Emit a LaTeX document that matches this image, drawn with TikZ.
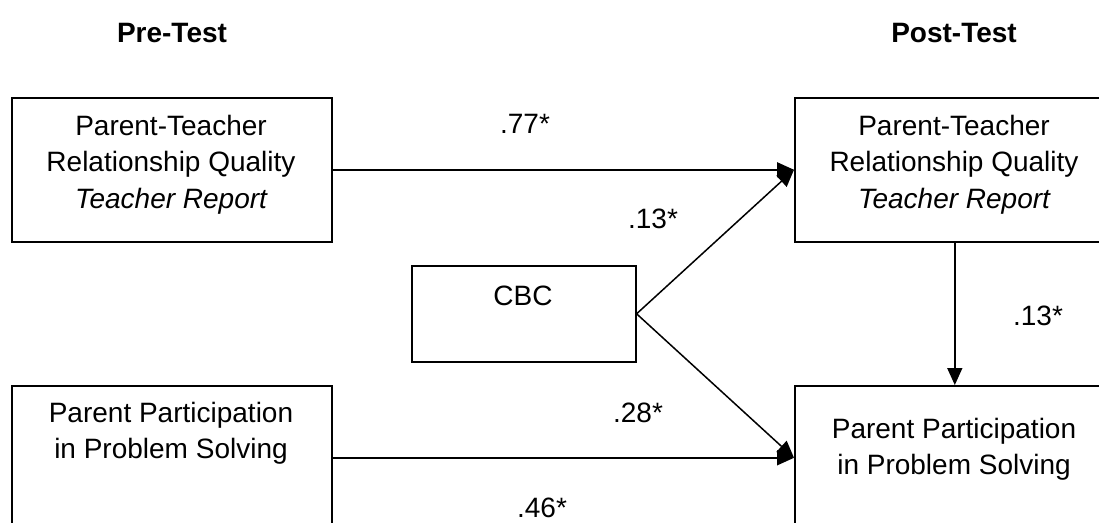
\documentclass[tikz,border=0pt]{standalone}
\usepackage{fontspec}
\setmainfont{Liberation Sans}
\usetikzlibrary{arrows.meta}
\begin{document}
\begin{tikzpicture}[x=1pt,y=-1pt,
  box/.style={draw, line width=1.6pt, minimum width=320pt, minimum height=144pt, inner sep=0pt, anchor=north west},
  cbcbox/.style={draw, line width=1.6pt, minimum width=224pt, minimum height=96pt, inner sep=0pt, anchor=north west},
  boxtext/.style={font=\fontsize{28}{36.5}\selectfont, align=center, anchor=north, inner sep=0pt},
  coef/.style={font=\fontsize{28}{34}\selectfont, anchor=base, inner sep=0pt},
  head/.style={font=\bfseries\fontsize{28}{34}\selectfont, anchor=base, inner sep=0pt},
  arr/.style={line width=1.5pt, -{Triangle[length=17pt,width=15pt]}}]
\useasboundingbox (0,0) rectangle (1099,522);
% titles
\node[head] (pre) at (172,42) {Pre-Test};
\node[head] (post) at (954,42) {Post-Test};
% boxes
\node[box] (tl) at (11,97) {};
\node[box] (tr) at (794,97) {};
\node[cbcbox] (cbc) at (411,265) {};
\node[box] (bl) at (11,385) {};
\node[box] (br) at (794,385) {};
% box texts
\node[boxtext] (tltext) at (171,115) {Parent-Teacher\\Relationship Quality\\\itshape Teacher Report};
\node[boxtext] (trtext) at (954,115) {Parent-Teacher\\Relationship Quality\\\itshape Teacher Report};
\node[boxtext] (cbctext) at (523,286) {CBC};
\node[boxtext] (bltext) at (171,402) {Parent Participation\\in Problem Solving};
\node[boxtext] (brtext) at (954,418) {Parent Participation\\in Problem Solving};
% connectors
\draw[arr] (tl.east) -- (tr.west);
\draw[arr] (cbc.east) -- (tr.west);
\draw[arr] (cbc.east) -- (br.west);
\draw[arr] (bl.east) -- (br.west);
\draw[arr] (tr.south) -- (br.north);
% coefficients
\node[coef] (c77) at (525,133) {.77*};
\node[coef] (c13a) at (653,228) {.13*};
\node[coef] (c13b) at (1038,325) {.13*};
\node[coef] (c28) at (638,422) {.28*};
\node[coef] (c46) at (542,517) {.46*};
\end{tikzpicture}
\end{document}
